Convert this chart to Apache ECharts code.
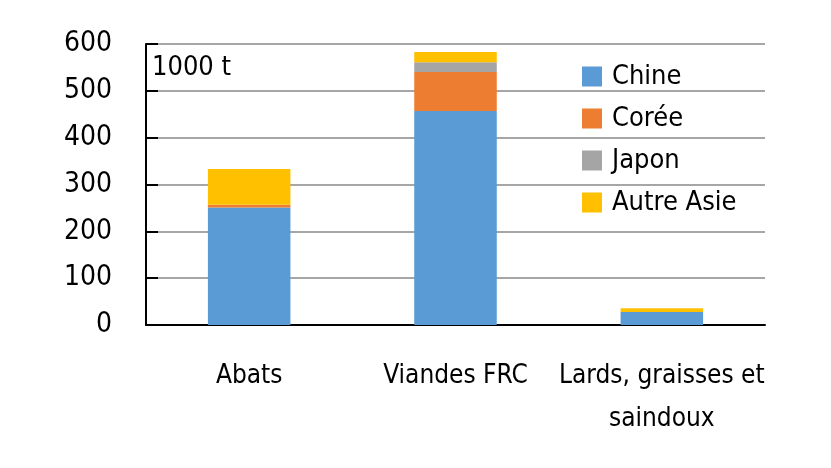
<!DOCTYPE html>
<html>
<head>
<meta charset="utf-8">
<script src="https://cdn.jsdelivr.net/npm/echarts@6/dist/echarts.min.js"></script>
<style>
  html, body { margin: 0; padding: 0; background: #fff; }
  #chart { width: 831px; height: 468px; }
</style>
</head>
<body>
<div id="chart"></div>
<script>
// données (1000 t)
var categories = ['Abats', 'Viandes FRC', 'Lards, graisses et\nsaindoux'];
var chine = [251, 457, 28];
var coree = [6, 83, 0];
var japon = [0, 21, 0];
var autreAsie = [76, 22, 8];
var yTicks = [0, 100, 200, 300, 400, 500, 600];

var font = "'DejaVu Sans Condensed', 'Liberation Sans Narrow', sans-serif";

var chart = echarts.init(document.getElementById('chart'));

function serie(name, data, color) {
    return {
        name: name,
        type: 'bar',
        stack: 'total',
        barWidth: '40%',
        itemStyle: { color: color },
        data: data
    };
}

chart.setOption({
    animation: false,
    textStyle: { fontFamily: font },
    grid: { left: 146, right: 66, top: 44, bottom: 143 },
    legend: {
        orient: 'vertical',
        left: 582,
        top: 63,
        padding: 0,
        itemWidth: 20,
        itemHeight: 20,
        itemGap: 15,
        icon: 'rect',
        textStyle: { fontSize: 27, color: '#000', fontFamily: font, padding: [0, 0, 0, 5] },
        data: ['Chine', 'Corée', 'Japon', 'Autre Asie']
    },
    graphic: [{
        type: 'text',
        left: 152,
        top: 54,
        style: { text: '1000 t', fontSize: 27, fill: '#000', fontFamily: font }
    }],
    xAxis: {
        type: 'category',
        data: categories,
        axisLine: { lineStyle: { color: '#000', width: 2 } },
        axisTick: { show: false },
        axisLabel: { color: '#000', fontSize: 26, margin: 30, lineHeight: 43, interval: 0, fontFamily: font }
    },
    yAxis: {
        type: 'value',
        min: yTicks[0],
        max: yTicks[yTicks.length - 1],
        interval: 100,
        axisLine: { show: true, lineStyle: { color: '#000', width: 2 } },
        axisTick: { show: true, inside: true, length: 12, lineStyle: { color: '#000', width: 2 } },
        axisLabel: { color: '#000', fontSize: 28, margin: 34, fontFamily: font },
        splitLine: { lineStyle: { color: '#a6a6a6', width: 2 } }
    },
    series: [
        serie('Chine', chine, '#5b9bd5'),
        serie('Corée', coree, '#ed7d31'),
        serie('Japon', japon, '#a5a5a5'),
        serie('Autre Asie', autreAsie, '#ffc000')
    ]
});
</script>
</body>
</html>
